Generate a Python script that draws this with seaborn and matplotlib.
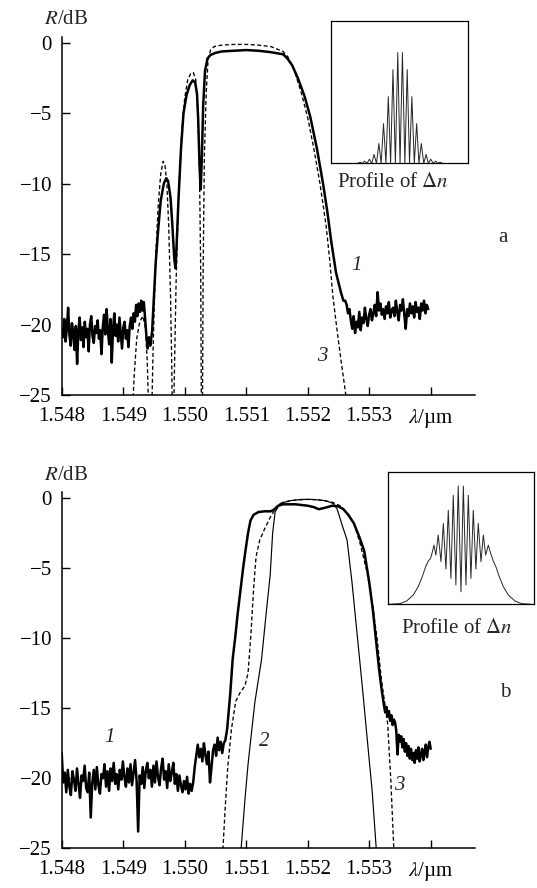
import numpy as np
import matplotlib
matplotlib.use("Agg")
import matplotlib.pyplot as plt
import seaborn as sns

sns.set_style("ticks")
plt.rcParams['font.family'] = ['Liberation Serif', 'DejaVu Serif']
plt.rcParams['mathtext.fontset'] = 'stix'
plt.rcParams['axes.unicode_minus'] = True

# ---------------- data: panel a ----------------
# measured (curve 1), noisy floor left of the band, 1.548 .. 1.54944 um
a_noise_left = [
    -20.4, -20.9, -19.6, -21.2, -20.3, -18.8, -20.7, -21.5, -19.9, -20.6,
    -21.8, -20.1, -22.8, -20.4, -19.5, -21.1, -20.2, -21.6, -19.8, -20.9,
    -20.3, -21.9, -20.0, -19.4, -20.8, -21.3, -20.1, -20.6, -19.7, -21.0,
    -20.4, -22.1, -20.2, -19.3, -20.7, -18.9, -20.5, -21.4, -19.6, -22.7,
    -20.3, -19.2, -20.8, -20.0, -21.2, -19.5, -20.6, -21.7, -20.2, -19.8,
    -21.0, -20.4, -21.6, -20.1, -19.5, -20.3, -19.2, -19.8, -18.6, -19.4,
    -18.5, -19.1, -18.3, -19.0, -18.4, -19.6, -20.8, -21.7, -20.9, -21.5]
a_noise_left_range = (1.548, 1.54944)
a_meas_lam = [
    1.54947, 1.54950, 1.54953, 1.54957, 1.54961, 1.54966, 1.54970, 1.54973,
    1.54977, 1.54980, 1.54983, 1.54985, 1.54987, 1.54990, 1.54994, 1.54998,
    1.55003, 1.55008, 1.55013, 1.55017, 1.55020, 1.55022, 1.55024, 1.55026,
    1.55028, 1.55030, 1.55033, 1.55037, 1.55042, 1.55050, 1.55060, 1.55080,
    1.55100, 1.55120, 1.55140, 1.55160, 1.55167, 1.55175, 1.55185, 1.55195,
    1.55204, 1.55215, 1.55225, 1.55232, 1.55238, 1.55246, 1.55254, 1.55258]
a_meas_r = [
    -20.5, -18.0, -15.5, -13.2, -11.2, -10.0, -9.6, -9.8,
    -11.0, -13.0, -15.3, -16.0, -14.2, -11.0, -7.5, -5.0,
    -3.7, -3.0, -2.65, -2.8, -3.6, -5.5, -8.5, -10.4,
    -8.0, -4.5, -2.0, -1.1, -0.85, -0.7, -0.6, -0.55,
    -0.5, -0.55, -0.65, -0.8, -1.1, -1.6, -2.6, -3.8,
    -5.2, -7.5, -10.0, -12.0, -14.0, -16.3, -17.7, -18.3]
a_noise_right = [
    -18.3, -18.6, -19.2, -18.9, -19.7, -20.3, -19.4, -20.6, -19.8, -20.2,
    -19.1, -20.4, -19.5, -19.9, -18.8, -19.6, -20.1, -19.3, -18.9, -19.7,
    -19.2, -18.6, -19.4, -17.7, -19.0, -18.5, -19.3, -18.9, -19.6, -18.7,
    -19.2, -18.4, -19.5, -19.0, -18.8, -19.4, -18.3, -19.1, -19.7, -18.6,
    -19.0, -18.2, -19.3, -20.3, -18.9, -19.4, -18.5, -19.2, -18.7, -19.5,
    -18.4, -19.1, -18.8, -19.6, -18.5, -19.0, -18.3, -19.2, -18.6, -18.9]
a_noise_right_range = (1.55261, 1.55396)

# calculated (curve 3)
a_calc_lam = [
    1.54914, 1.54918, 1.54922, 1.54927, 1.54932, 1.54936, 1.54939, 1.54942,
    1.54944, 1.54946, 1.54949, 1.54953, 1.54957, 1.54961, 1.54965, 1.54968,
    1.54971, 1.54974, 1.54977, 1.54979, 1.54981, 1.54983, 1.54986, 1.54990,
    1.54995, 1.55000, 1.55005, 1.55010, 1.55014, 1.55018, 1.55021, 1.55024,
    1.55026, 1.55027, 1.55028, 1.55029, 1.55030, 1.55032, 1.55035, 1.55038,
    1.55042, 1.55048, 1.55060, 1.55080, 1.55100, 1.55120, 1.55140, 1.55160,
    1.55168, 1.55178, 1.55190, 1.55200, 1.55210, 1.55220, 1.55230, 1.55236,
    1.55241, 1.55248, 1.55255, 1.55262, 1.55270]
a_calc_r = [
    -27, -23.5, -21.0, -19.8, -19.4, -20.2, -22.5, -27,
    -31, -27, -21, -15, -11.5, -9.3, -8.4, -8.7,
    -10.0, -13.0, -18.0, -23.0, -31, -24, -17, -11,
    -6.5, -3.9, -2.6, -2.15, -2.1, -2.6, -4.5, -9.0,
    -16.0, -25, -31, -25, -16, -8, -3.5, -1.2,
    -0.5, -0.25, -0.15, -0.1, -0.1, -0.15, -0.25, -0.6,
    -1.0, -1.9, -3.6, -5.3, -7.5, -10.0, -13.0, -15.5,
    -18.0, -20.5, -22.8, -25, -28]

# index-modulation profile (inset a): spike positions and heights
a_prof_pos = [0.213, 0.247, 0.282, 0.316, 0.351, 0.385, 0.420, 0.454, 0.489,
              0.523, 0.558, 0.592, 0.627, 0.661, 0.696, 0.730, 0.765, 0.799]
a_prof_h = [0.008, 0.016, 0.03, 0.063, 0.14, 0.28, 0.47, 0.66, 0.78,
            0.78, 0.66, 0.47, 0.28, 0.14, 0.063, 0.03, 0.016, 0.008]

# ---------------- data: panel b ----------------
b_noise_left = [
    -18.2, -20.3, -19.6, -21.0, -19.4, -20.6, -21.2, -19.5, -20.1, -20.9,
    -19.3, -20.4, -21.4, -19.8, -20.2, -19.1, -20.7, -21.0, -19.6, -22.8,
    -20.3, -19.4, -20.8, -19.2, -20.5, -21.1, -19.7, -20.0, -19.0, -20.6,
    -19.5, -20.9, -19.3, -20.2, -18.9, -20.4, -19.7, -20.8, -19.4, -20.1,
    -18.8, -19.9, -20.6, -19.3, -20.3, -19.0, -20.5, -19.6, -18.7, -20.2,
    -23.8, -19.8, -20.4, -19.2, -20.7, -19.5, -18.9, -20.0, -19.4, -20.6,
    -19.1, -20.3, -18.8, -19.9, -20.5, -19.3, -18.6, -20.1, -19.5, -20.7,
    -19.0, -20.2, -19.6, -18.9, -20.4, -19.7, -20.9, -19.8, -20.5, -21.0,
    -20.2, -20.8, -19.9, -21.1, -20.4, -20.9, -20.3, -19.2, -18.4, -17.6,
    -18.5, -17.9, -18.8, -17.5, -18.3, -19.0, -18.1, -20.3, -19.2, -18.0,
    -17.6, -18.4, -17.1, -18.0, -17.4, -18.2, -17.5, -17.3]
b_noise_left_range = (1.548, 1.55066)
b_meas_lam = [
    1.55069, 1.55074, 1.55078, 1.55082, 1.55086, 1.55091, 1.55095, 1.55099,
    1.55103, 1.55107, 1.55112, 1.55120, 1.55130, 1.55140, 1.55146, 1.55152,
    1.55160, 1.55180, 1.55200, 1.55210, 1.55218, 1.55228, 1.55240, 1.55250,
    1.55258, 1.55266, 1.55275, 1.55285, 1.55292, 1.55300, 1.55306, 1.55311,
    1.55316, 1.55320]
b_meas_r = [
    -16.5, -14.0, -11.5, -10.0, -8.3, -6.5, -5.0, -3.7,
    -2.5, -1.6, -1.2, -1.0, -0.95, -0.95, -0.8, -0.55,
    -0.45, -0.45, -0.55, -0.65, -0.8, -0.7, -0.55, -0.6,
    -0.8, -1.2, -1.8, -2.9, -3.8, -6.0, -8.0, -10.1,
    -12.2, -13.6]
b_noise_right = [
    -14.2, -14.8, -15.3, -14.9, -15.6, -15.2, -15.9, -15.5, -16.2, -15.8,
    -16.0, -16.6, -18.3, -16.9, -17.4, -17.0, -17.8, -17.2, -18.1, -17.5,
    -18.4, -17.7, -18.6, -17.9, -18.7, -18.2, -18.9, -18.0, -18.6, -17.8,
    -18.8, -18.3, -17.9, -18.7, -18.1, -17.6, -18.5, -17.8, -17.4, -17.9]
b_noise_right_range = (1.55322, 1.55400)

# calculated, uniform-envelope grating (curve 2, thin solid)
b_c2_lam = [
    1.55090, 1.55098, 1.55103, 1.55114, 1.55125, 1.55133, 1.55139, 1.55143,
    1.55147, 1.55155, 1.55170, 1.55190, 1.55210, 1.55230, 1.55242, 1.55248,
    1.55255, 1.55264, 1.55272, 1.55281, 1.55290, 1.55297, 1.55305, 1.55313]
b_c2_r = [
    -26, -21.5, -19.0, -14.6, -11.5, -8.0, -5.5, -2.5,
    -1.0, -0.4, -0.2, -0.1, -0.1, -0.2, -0.4, -0.8,
    -1.8, -3.0, -6.0, -10.0, -14.0, -17.3, -21.0, -26]

# calculated (curve 3, dashed)
b_c3_lam = [
    1.55061, 1.55066, 1.55070, 1.55076, 1.55083, 1.55090, 1.55098, 1.55103,
    1.55108, 1.55112, 1.55116, 1.55122, 1.55130, 1.55140, 1.55150, 1.55160,
    1.55180, 1.55200, 1.55220, 1.55240, 1.55255, 1.55265, 1.55275, 1.55285,
    1.55297, 1.55306, 1.55313, 1.55320, 1.55330, 1.55335, 1.55341]
b_c3_r = [
    -26, -22.0, -19.2, -16.5, -14.5, -13.9, -13.4, -12.5,
    -9.5, -6.5, -4.2, -3.0, -2.2, -1.3, -0.6, -0.3,
    -0.15, -0.1, -0.15, -0.3, -0.6, -1.2, -1.8, -3.2,
    -5.4, -7.8, -10.1, -13.0, -16.1, -20.0, -26]

# index-modulation profile (inset b)
b_prof_x = [0.011, 0.080, 0.126, 0.171, 0.205, 0.233, 0.256, 0.274, 0.290, 0.301,
            0.313, 0.326, 0.342, 0.361, 0.377, 0.395, 0.411, 0.429, 0.445, 0.463,
            0.479, 0.498, 0.514, 0.532, 0.548, 0.566, 0.582, 0.600, 0.616, 0.635,
            0.651, 0.667, 0.685, 0.699, 0.719, 0.737, 0.760, 0.788, 0.822, 0.868,
            0.913, 0.982]
b_prof_y = [0, 0.005, 0.025, 0.070, 0.133, 0.209, 0.284, 0.327, 0.347, 0.392,
            0.447, 0.372, 0.523, 0.322, 0.611, 0.266, 0.711, 0.196, 0.824, 0.146,
            0.894, 0.095, 0.894, 0.146, 0.824, 0.196, 0.711, 0.266, 0.611, 0.322,
            0.523, 0.372, 0.447, 0.392, 0.327, 0.284, 0.209, 0.133, 0.070, 0.025,
            0.005, 0]

x_ticks = [1.548, 1.549, 1.550, 1.551, 1.552, 1.553, 1.554]
x_ticklabels = ['1.548', '1.549', '1.550', '1.551', '1.552', '1.553', r'$\lambda$/µm']
y_ticks = [0, -5, -10, -15, -20, -25]
y_ticklabels = ['0', '\u22125', '\u221210', '\u221215', '\u221220', '\u221225']

FS = 15
DASH = (0, (3.0, 1.9))


def join_measured(left, left_rng, lam, r, right, right_rng):
    xs = np.concatenate([np.linspace(left_rng[0], left_rng[1], len(left)),
                         np.asarray(lam),
                         np.linspace(right_rng[0], right_rng[1], len(right))])
    ys = np.concatenate([left, r, right])
    return xs, ys


def style_axis(ax):
    ax.set_xlim(1.548, 1.55472)
    ax.set_ylim(-25, 0.4)
    ax.set_xticks(x_ticks)
    ax.set_xticklabels(x_ticklabels, fontsize=FS)
    ax.set_yticks(y_ticks)
    ax.set_yticklabels(y_ticklabels, fontsize=FS)
    ax.tick_params(direction='in', length=5.8, width=1.0, colors='black')
    ax.tick_params(axis='y', pad=7)
    ax.tick_params(axis='x', pad=8.5)
    for s in ['top', 'right']:
        ax.spines[s].set_visible(False)
    for s in ['left', 'bottom']:
        ax.spines[s].set_linewidth(1.1)
        ax.spines[s].set_color('black')
    ax.set_xlabel('')
    ax.set_ylabel('')


def profile_inset(fig, rect):
    ins = fig.add_axes(rect)
    ins.set_xlim(0, 1)
    ins.set_ylim(0, 1)
    ins.set_xticks([])
    ins.set_yticks([])
    for s in ins.spines.values():
        s.set_linewidth(0.9)
        s.set_color('black')
    return ins


fig = plt.figure(figsize=(5.37, 8.88), dpi=100)

# ---------------- panel a ----------------
ax_a = fig.add_axes([0.1149, 0.5552, 0.7696, 0.4027])
xa, ya = join_measured(a_noise_left, a_noise_left_range, a_meas_lam, a_meas_r,
                       a_noise_right, a_noise_right_range)
sns.lineplot(x=xa, y=ya, ax=ax_a, color='black', lw=1.8, sort=False, estimator=None)
sns.lineplot(x=a_calc_lam, y=a_calc_r, ax=ax_a, color='black', lw=0.95,
             linestyle=DASH, sort=False, estimator=None)
style_axis(ax_a)
ax_a.text(1.55280, -15.8, '1', fontsize=FS, style='italic', ha='center', va='center')
ax_a.text(1.55224, -22.3, '3', fontsize=FS, style='italic', ha='center', va='center')

ins_a = profile_inset(fig, [0.616, 0.816, 0.255, 0.160])
px, py = [], []
half = 0.0172
for pos, h in zip(a_prof_pos, a_prof_h):
    px += [pos - half, pos]
    py += [0, h]
px.append(a_prof_pos[-1] + half)
py.append(0)
ins_a.plot(px, py, color='0.15', lw=0.7)

fig.text(0.732, 0.794, r'Profile of $\Delta n$', fontsize=FS, ha='center', va='center')
fig.text(0.937, 0.732, 'a', fontsize=FS, ha='center', va='center')
fig.text(0.123, 0.978, r'$R$/dB', fontsize=FS, ha='center', va='center')

# ---------------- panel b ----------------
ax_b = fig.add_axes([0.1149, 0.0447, 0.7696, 0.4008])
xb, yb = join_measured(b_noise_left, b_noise_left_range, b_meas_lam, b_meas_r,
                       b_noise_right, b_noise_right_range)
sns.lineplot(x=xb, y=yb, ax=ax_b, color='black', lw=1.8, sort=False, estimator=None)
sns.lineplot(x=b_c2_lam, y=b_c2_r, ax=ax_b, color='black', lw=0.85,
             sort=False, estimator=None)
sns.lineplot(x=b_c3_lam, y=b_c3_r, ax=ax_b, color='black', lw=0.95,
             linestyle=DASH, sort=False, estimator=None)
style_axis(ax_b)
ax_b.text(1.54878, -17.1, '1', fontsize=FS, style='italic', ha='center', va='center')
ax_b.text(1.55130, -17.4, '2', fontsize=FS, style='italic', ha='center', va='center')
ax_b.text(1.55349, -20.5, '3', fontsize=FS, style='italic', ha='center', va='center')

ins_b = profile_inset(fig, [0.723, 0.3195, 0.272, 0.149])
ins_b.plot(b_prof_x, b_prof_y, color='0.15', lw=0.7)

fig.text(0.850, 0.292, r'Profile of $\Delta n$', fontsize=FS, ha='center', va='center')
fig.text(0.940, 0.220, 'b', fontsize=FS, ha='center', va='center')
fig.text(0.123, 0.465, r'$R$/dB', fontsize=FS, ha='center', va='center')

fig.savefig('out.png', dpi=100, facecolor='white')
